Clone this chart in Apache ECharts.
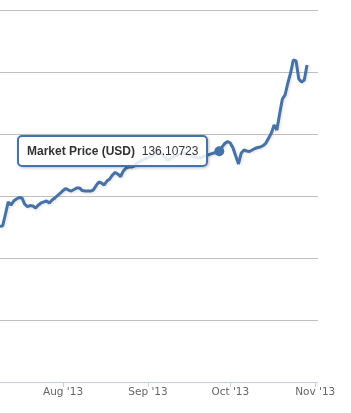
<!DOCTYPE html>
<html>
<head>
<meta charset="utf-8">
<script src="https://cdn.jsdelivr.net/npm/echarts@6/dist/echarts.min.js"></script>
<style>
html,body{margin:0;padding:0;background:#fff;}
#chart{width:351px;height:413px;}
</style>
</head>
<body>
<div id="chart"></div>
<script>
// ---- data ----
const seriesName = 'Market Price (USD)';
const startDate = '2013-07-09';
const prices = [
  75.2, 76.2, 85.5, 95.2, 92.7, 96.0, 97.6, 98.8, 98.4, 93.5,
  91.5, 92.3, 91.9, 90.3, 92.7, 94.4, 95.2, 96.0, 94.4, 96.8,
  98.4, 100.4, 102.4, 104.4, 106.0, 104.8, 104.0, 105.2, 106.5, 106.5,
  104.4, 104.0, 104.0, 104.0, 104.8, 108.1, 111.3, 110.5, 108.9, 112.1,
  113.7, 116.9, 119.0, 117.7, 115.7, 120.2, 122.6, 123.4, 123.4, 124.2,
  126.6, 127.8, 129.0, 130.2, 131.0, 131.9, 133.1, 135.1, 135.9, 133.9,
  131.9, 129.0, 129.8, 131.5, 132.7, 133.1, 133.9, 134.7, 134.3, 133.1,
  132.3, 131.5, 131.0, 130.6, 131.5, 132.3, 133.1, 133.9, 134.7, 135.1,
  136.10723, 139.5, 142.3, 144.0, 142.7, 138.7, 132.3, 125.8, 134.7, 137.1,
  136.3, 135.9, 137.1, 138.3, 139.1, 139.5, 140.7, 142.7, 146.8, 150.8,
  157.3, 153.2, 166.1, 178.2, 181.5, 191.1, 199.2, 209.7, 208.9, 194.4,
  191.9, 193.5, 205.6
];
const hoverIndex = 80;
const tickDates = ['2013-08-01', '2013-09-01', '2013-10-01', '2013-11-01'];
const tickLabels = ["Aug '13", "Sep '13", "Oct '13", "Nov '13"];
const xMin = '2013-07-09';
const xMax = '2013-11-02';
const yMin = -50, yMax = 250, yStep = 50;

// ---- build ----
const DAY = 86400000;
const t0 = Date.parse(startDate + 'T00:00:00Z');
const points = prices.map((v, i) => [t0 + i * DAY, v]);
const tickTs = tickDates.map(d => Date.parse(d + 'T00:00:00Z'));
const labelMap = {};
tickTs.forEach((t, i) => { labelMap[t] = tickLabels[i]; });

const FONT = '"Liberation Sans", Arial, sans-serif';
const AXFONT = '"DejaVu Sans", Verdana, sans-serif';
const chart = echarts.init(document.getElementById('chart'), null, {renderer: 'canvas'});
chart.setOption({
  animation: false,
  backgroundColor: '#ffffff',
  grid: {left: 0, right: 33, top: 10, bottom: 31, containLabel: false, outerBoundsMode: 'none'},
  xAxis: {
    type: 'value',
    min: Date.parse(xMin + 'T00:00:00Z'),
    max: Date.parse(xMax + 'T00:00:00Z'),
    axisLine: {onZero: false, lineStyle: {color: '#C0D0E0', width: 1}},
    axisTick: {show: true, length: 5, lineStyle: {color: '#C0D0E0'}, customValues: tickTs},
    axisLabel: {
      customValues: tickTs,
      formatter: v => labelMap[v] || '',
      color: '#666666', fontSize: 10.5, fontFamily: AXFONT, margin: 5,
      showMinLabel: true, showMaxLabel: true, hideOverlap: false
    },
    splitLine: {show: false}
  },
  yAxis: {
    type: 'value',
    min: yMin, max: yMax, interval: yStep,
    axisLine: {show: false},
    axisTick: {show: false},
    axisLabel: {show: false},
    splitLine: {lineStyle: {color: '#C0C0C0', width: 1}}
  },
  tooltip: {
    trigger: 'item',
    alwaysShowContent: true,
    transitionDuration: 0,
    backgroundColor: 'rgba(255,255,255,0.85)',
    borderColor: '#4572A7',
    borderWidth: 2,
    borderRadius: 5,
    padding: [6, 8],
    textStyle: {fontSize: 12, color: '#333333', fontFamily: FONT},
    extraCssText: 'box-shadow: 1px 1px 3px rgba(0,0,0,0.25); line-height:16px; white-space:nowrap;',
    formatter: p => '<b>' + seriesName + '</b>&nbsp;&nbsp;' + p.value[1],
    position: (point, params, dom, rect, size) => [
      point[0] - size.contentSize[0] - 11,
      point[1] - size.contentSize[1] / 2
    ]
  },
  series: [
    {
      name: seriesName,
      type: 'line',
      data: points,
      showSymbol: false,
      symbol: 'none',
      silent: true,
      lineStyle: {color: '#4572A7', width: 3,
        shadowColor: 'rgba(0,0,0,0.12)', shadowBlur: 3, shadowOffsetX: 1, shadowOffsetY: 1},
      itemStyle: {color: '#4572A7'},
      emphasis: {disabled: true},
      z: 2
    },
    {
      name: seriesName,
      type: 'scatter',
      data: [points[hoverIndex]],
      symbol: 'circle',
      symbolSize: 10,
      itemStyle: {color: '#4572A7', opacity: 1},
      emphasis: {disabled: true},
      z: 3
    }
  ]
});
chart.dispatchAction({type: 'showTip', seriesIndex: 1, dataIndex: 0});
</script>
</body>
</html>
